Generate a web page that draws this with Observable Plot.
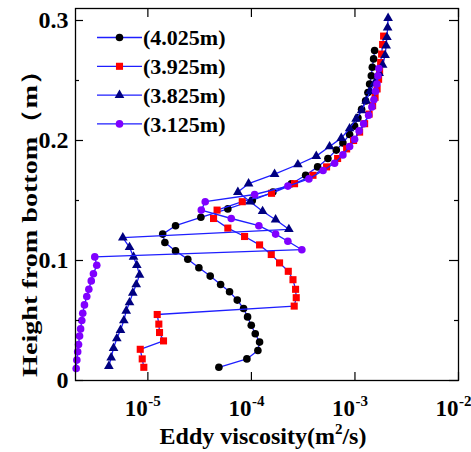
<!DOCTYPE html>
<html><head><meta charset="utf-8">
<script src="https://cdn.jsdelivr.net/npm/d3@7"></script>
<script src="https://cdn.jsdelivr.net/npm/@observablehq/plot@0.6"></script>
<style>body{margin:0;background:#fff} svg{display:block}</style>
</head><body><div id="chart"></div>
<script>
// Series
const seriesNames = ["(4.025m)", "(3.925m)", "(3.825m)", "(3.125m)"];
const seriesColors = ["#000000", "#ff0000", "#000080", "#8000ff"];
const seriesSymbols = ["circle", "square", "triangle", "circle"];
const seriesR = [3.8, 4.0, 3.6, 3.8];

// Height from bottom (m) and eddy viscosity (m^2/s) for each series
const h4025 = [0.011,0.018,0.025,0.032,0.039,0.046,0.053,0.060,0.067,0.074,0.080,0.087,0.094,0.101,0.108,0.115,0.122,0.129,0.136,0.143,0.150,0.157,0.164,0.171,0.178,0.185,0.192,0.198,0.205,0.212,0.219,0.226,0.233,0.240,0.247,0.254,0.261,0.268,0.275];
const v4025 = [4.85e-5,9.04e-5,1.155e-4,1.199e-4,1.089e-4,9.97e-5,9.18e-5,8.40e-5,7.30e-5,6.15e-5,5.04e-5,4.00e-5,3.11e-5,2.43e-5,1.85e-5,1.46e-5,1.39e-5,1.85e-5,3.25e-5,5.92e-5,1.019e-4,1.612e-4,2.43e-4,3.34e-4,4.36e-4,5.48e-4,6.60e-4,7.65e-4,8.88e-4,9.92e-4,1.068e-3,1.159e-3,1.267e-3,1.334e-3,1.385e-3,1.439e-3,1.471e-3,1.514e-3,1.548e-3];

const h3925 = [0.011,0.018,0.026,0.033,0.040,0.047,0.055,0.062,0.069,0.076,0.084,0.091,0.098,0.105,0.113,0.120,0.127,0.135,0.142,0.149,0.156,0.164,0.171,0.178,0.185,0.193,0.200,0.207,0.214,0.222,0.229,0.236,0.243,0.251,0.258,0.265,0.272,0.280,0.287];
const v3925 = [9.14e-6,8.82e-6,8.44e-6,1.416e-5,1.296e-5,1.276e-5,1.231e-5,2.59e-4,2.71e-4,2.67e-4,2.52e-4,2.27e-4,1.87e-4,1.555e-4,1.199e-4,8.59e-5,5.92e-5,4.31e-5,4.66e-5,8.16e-5,1.565e-4,2.61e-4,3.93e-4,5.32e-4,6.80e-4,8.31e-4,9.70e-4,1.109e-3,1.240e-3,1.370e-3,1.481e-3,1.565e-3,1.637e-3,1.692e-3,1.730e-3,1.770e-3,1.809e-3,1.850e-3,1.891e-3];

const h3825 = [0.012,0.019,0.027,0.035,0.042,0.050,0.058,0.065,0.073,0.080,0.088,0.096,0.103,0.111,0.119,0.126,0.134,0.141,0.149,0.157,0.164,0.172,0.180,0.187,0.195,0.202,0.210,0.218,0.225,0.233,0.241,0.248,0.256,0.263,0.271,0.279,0.286,0.294,0.302];
const v3825 = [4.20e-6,4.42e-6,4.66e-6,5.01e-6,5.44e-6,5.86e-6,6.18e-6,6.65e-6,7.15e-6,7.72e-6,8.31e-6,7.82e-6,7.27e-6,6.65e-6,5.73e-6,2.30e-4,1.712e-4,1.282e-4,9.75e-5,7.40e-5,9.39e-5,1.674e-4,2.81e-4,4.23e-4,5.69e-4,7.38e-4,8.88e-4,1.026e-3,1.159e-3,1.282e-3,1.401e-3,1.548e-3,1.712e-3,1.850e-3,1.955e-3,2.0e-3,2.036e-3,2.068e-3,2.09e-3];

const h3125 = [0.010,0.017,0.024,0.030,0.037,0.043,0.050,0.056,0.063,0.070,0.076,0.083,0.089,0.096,0.103,0.109,0.116,0.122,0.129,0.135,0.142,0.149,0.155,0.162,0.168,0.175,0.181,0.188,0.195,0.201,0.208,0.214,0.221,0.228,0.234,0.241,0.247,0.254,0.260];
const v3125 = [2.03e-6,2.06e-6,2.10e-6,2.14e-6,2.19e-6,2.24e-6,2.30e-6,2.35e-6,2.44e-6,2.57e-6,2.69e-6,2.84e-6,2.98e-6,3.21e-6,3.07e-6,3.07e-4,2.25e-4,1.712e-4,1.18e-4,6.39e-5,3.28e-5,3.58e-5,1.073e-4,2.25e-4,3.59e-4,4.92e-4,6.36e-4,7.65e-4,8.88e-4,9.92e-4,1.097e-3,1.213e-3,1.355e-3,1.458e-3,1.524e-3,1.583e-3,1.630e-3,1.667e-3,1.703e-3];

// Axis ticks
const xTicks = [1e-5, 1e-4, 1e-3, 1e-2];
const xTickExp = ["-5", "-4", "-3", "-2"];
const yTicks = [0, 0.1, 0.2, 0.3];
const yTickLabels = ["0", "0.1", "0.2", "0.3"];
const yMinor = [0.05, 0.15, 0.25];
const xLabel = "Eddy viscosity(m";
const xLabelSup = "2";
const xLabelEnd = "/s)";
const yLabel = "Height from bottom\uFF08m\uFF09";

const heights = [h4025, h3925, h3825, h3125];
const values = [v4025, v3925, v3825, v3125];
const tables = seriesNames.map((s, i) => heights[i].map((h, j) => ({series: s, h, v: values[i][j]})));

const W = 471, H = 452;
const mL = 75, mR = 13, mT = 8, mB = 72;
const frameW = W - mL - mR, frameH = H - mT - mB;
const FONT = "'Liberation Serif', 'Times New Roman', serif";
const LINE = "#1e1eff";

const marks = [];
tables.forEach((t, i) => {
  marks.push(Plot.line(t, {x: "v", y: "h", stroke: LINE, strokeWidth: 1.3}));
  marks.push(Plot.dot(t, {x: "v", y: "h", symbol: seriesSymbols[i], fill: seriesColors[i], r: seriesR[i], stroke: "none"}));
});

const tickStyle = {stroke: "#000", strokeWidth: 1.2};
marks.push(
  Plot.frame({stroke: "#000", strokeWidth: 1.3}),
  Plot.tickX(xTicks, {x: d => d, insetTop: frameH - 8, ...tickStyle}),
  Plot.tickX(xTicks, {x: d => d, insetBottom: frameH - 9, ...tickStyle}),
  Plot.tickY(yTicks, {y: d => d, insetRight: frameW - 8, ...tickStyle}),
  Plot.tickY(yMinor, {y: d => d, insetRight: frameW - 4, ...tickStyle}),
  Plot.tickY(yTicks, {y: d => d, insetLeft: frameW - 9, ...tickStyle}),
  Plot.tickY(yMinor, {y: d => d, insetLeft: frameW - 4, ...tickStyle}),
  Plot.axisY(yTicks, {tickSize: 0, tickPadding: 7, tickFormat: (d, i) => yTickLabels[i], fontSize: 24, fontWeight: "bold", fontFamily: FONT, fill: "#000", label: null}),
  Plot.text(xTicks, {x: d => d, frameAnchor: "bottom", text: () => "10", textAnchor: "end", lineAnchor: "middle", dy: 28, fontSize: 23, fontWeight: "bold", fontFamily: FONT, fill: "#000"}),
  Plot.text(xTicks, {x: d => d, frameAnchor: "bottom", text: (d, i) => xTickExp[i], textAnchor: "start", lineAnchor: "middle", dx: 0.5, dy: 21, fontSize: 15, fontWeight: "bold", fontFamily: FONT, fill: "#000"})
);

const svg = Plot.plot({
  width: W, height: H,
  marginLeft: mL, marginRight: mR, marginTop: mT, marginBottom: mB,
  style: {background: "#fff", color: "#000", fontFamily: FONT, overflow: "visible"},
  x: {type: "log", domain: [2e-6, 1e-2], axis: null},
  y: {domain: [0, 0.31], axis: null},
  marks
});

const s = d3.select(svg);
// X axis label
const xl = s.append("text")
  .attr("x", 263).attr("y", 444)
  .attr("text-anchor", "middle")
  .attr("font-family", FONT).attr("font-weight", "bold").attr("font-size", 24).attr("fill", "#000");
xl.append("tspan").text(xLabel);
xl.append("tspan").attr("dy", -10).attr("font-size", 15).text(xLabelSup);
xl.append("tspan").attr("dy", 10).text(xLabelEnd);

// Y axis label
s.append("text")
  .attr("transform", "translate(37,217) rotate(-90)")
  .attr("text-anchor", "middle")
  .attr("font-family", FONT).attr("font-weight", "bold").attr("font-size", 22).attr("fill", "#000")
  .attr("textLength", 320).attr("lengthAdjust", "spacingAndGlyphs")
  .text(yLabel);

// Legend
const lg = s.append("g");
seriesNames.forEach((name, i) => {
  const y = 37.5 + i * 28.8;
  lg.append("line").attr("x1", 97).attr("x2", 142).attr("y1", y).attr("y2", y)
    .attr("stroke", LINE).attr("stroke-width", 1.3);
  const type = {circle: d3.symbolCircle, square: d3.symbolSquare, triangle: d3.symbolTriangle}[seriesSymbols[i]];
  lg.append("path").attr("transform", `translate(119.5,${y})`)
    .attr("d", d3.symbol(type, Math.PI * seriesR[i] * seriesR[i])())
    .attr("fill", seriesColors[i]);
  lg.append("text").attr("x", 143).attr("y", y).attr("dy", "0.35em")
    .attr("text-anchor", "start")
    .attr("font-family", FONT).attr("font-weight", "bold").attr("font-size", 22).attr("fill", "#000")
    .text(name);
});

document.getElementById("chart").appendChild(svg);
</script>
</body></html>
